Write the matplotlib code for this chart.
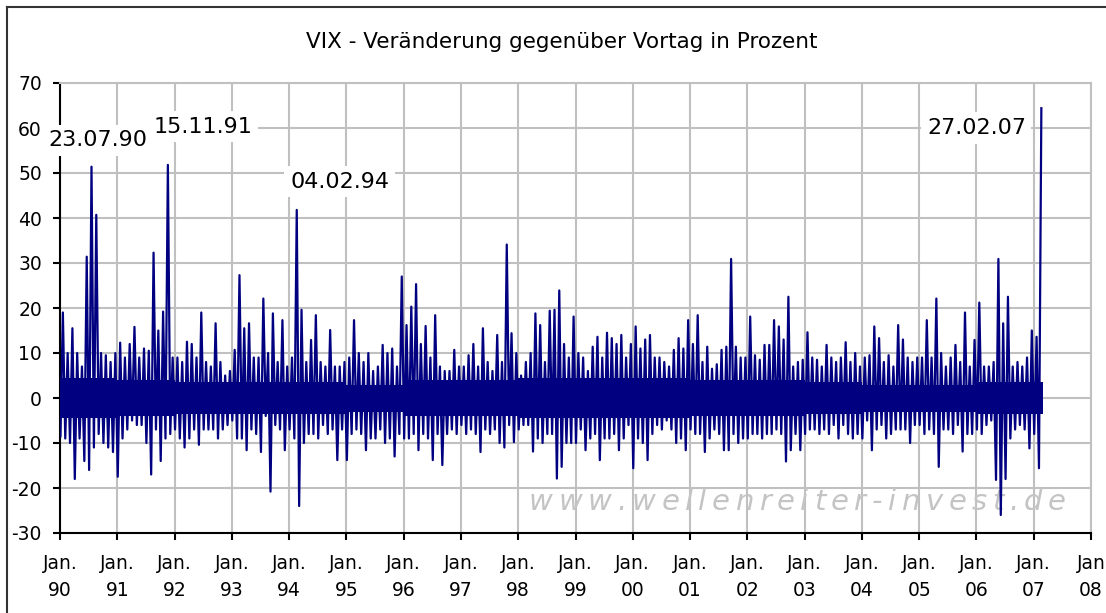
import numpy as np
import matplotlib
matplotlib.use('Agg')
import matplotlib.pyplot as plt
from matplotlib.lines import Line2D

plt.rcParams['font.family'] = 'DejaVu Sans'
plt.rcParams['axes.unicode_minus'] = False

# monthly high / low of the daily % change, Jan 1990 .. Feb 2007
month_max = [
    19, 10, 15.5, 10, 7, 31.4, 51.4, 40.7, 10, 9.5, 8, 10,                 # 1990
    12.3, 9, 12, 15.8, 9, 11, 10.5, 32.3, 15, 19.2, 51.8, 9,               # 1991
    9, 8, 12.5, 12, 9, 19, 8, 7, 16.6, 8, 5, 6,                            # 1992
    10.7, 27.3, 15.5, 16.6, 9, 9, 22.1, 10, 18.8, 8, 17.3, 7,              # 1993
    9, 41.8, 19.6, 8, 12.9, 18.4, 8, 7, 15.1, 7, 7, 8,                     # 1994
    9, 17.3, 10, 8, 10, 6, 7, 11.8, 10, 11, 7, 27,                         # 1995
    16.2, 20.3, 25.3, 12, 16, 9, 18.4, 7, 6, 6, 10.7, 7,                   # 1996
    7, 9.5, 12, 7, 15.5, 8, 6, 14, 8, 34.1, 14.4, 10,                      # 1997
    5, 8, 10, 18.8, 16.2, 8, 19.4, 19.6, 23.9, 12, 9, 18.1,                # 1998
    10, 9, 6, 11.4, 13.6, 9, 14.5, 13.3, 12, 14, 9, 12,                    # 1999
    15.9, 11, 13, 14, 9, 9, 8, 7, 10.7, 13.3, 11, 17.3,                    # 2000
    12, 18.4, 8, 11.4, 6.5, 7.5, 10.7, 11.4, 30.9, 11.4, 9, 9,             # 2001
    18.1, 9.5, 8.5, 11.8, 11.8, 17.3, 15.9, 13, 22.5, 7, 8, 8.5,           # 2002
    14.6, 9, 8.5, 7, 11.8, 9, 8, 9, 12.4, 8, 10, 7,                        # 2003
    9, 9.5, 15.9, 13.3, 8, 9.5, 7, 16.2, 13, 9, 8, 9,                      # 2004
    9, 17.3, 9, 22.1, 10, 7, 9, 11.8, 8, 19, 7, 12.9,                      # 2005
    21.2, 7, 7, 8, 30.9, 16.6, 22.5, 7, 8, 7, 9, 15,                       # 2006
    13.6, 64.4,                                                            # 2007
]
month_min = [
    -8.5, -9, -10, -18, -9, -14, -16, -11, -8, -10, -11, -12,
    -17.5, -9, -7, -5, -6, -6, -10, -17, -7, -14, -9, -8,
    -7, -9, -11, -9, -7, -10.4, -7, -7, -7, -9, -7, -6,
    -5, -9, -9, -11.6, -7, -8, -12, -4, -20.8, -6, -7, -11.6,
    -7, -9, -24, -10, -8, -8, -9, -6, -8, -7, -13.8, -7,
    -13.8, -8, -7, -8, -11.6, -9, -9, -7, -10, -9, -13, -8,
    -9, -9, -8, -11.6, -8, -9, -13.8, -8, -14.9, -8, -7, -8,
    -6, -8, -7, -8, -12, -7, -8, -7, -10, -11, -6, -9.8,
    -7, -6, -6, -11.9, -9, -10, -8, -8, -17.9, -15.3, -10, -10,
    -10, -7, -11.6, -9, -8, -13.8, -9, -9, -8, -11.6, -9, -6,
    -15.6, -9, -10, -13.8, -8, -6, -7, -5, -7, -10, -9, -11.6,
    -7, -8, -8, -12, -9, -7, -8, -11.6, -11.6, -8, -10, -9,
    -9, -8, -8, -9, -8, -8, -7, -8, -14.1, -11.6, -8, -11.6,
    -8, -7, -7, -8, -7, -8, -6, -9, -6, -8, -9, -8,
    -9, -5, -11.6, -7, -6, -9, -8, -7, -7, -7, -10, -6,
    -6, -8, -7, -8, -15.3, -7, -7, -8, -6, -11.9, -8, -8,
    -7, -8, -6, -5, -18.2, -26, -18, -9, -7, -6, -7, -11.2,
    -8, -15.6,
]

# the solid dense core of the band per year
core_years = list(range(1990, 2008))
core_hi = [4.5, 4, 3.5, 3.5, 3.5, 3, 4, 4, 4.5, 4.5, 4.5, 4, 4, 3.5, 3, 3, 3.5, 3.5]
core_lo = [-4.5, -4, -3.5, -3.5, -3.5, -3, -4, -4, -4.5, -4.5, -4.5, -4, -4, -3.5, -3, -3, -3.5, -3.5]

year_ticks = np.arange(1990, 2009)
year_labels = ['Jan.\n%02d' % (y % 100) for y in year_ticks]
year_labels[-1] = 'Jan\n08'
y_ticks = np.arange(-30, 71, 10)

spike_labels = ['23.07.90', '15.11.91', '04.02.94', '27.02.07']
label_pos = [(1990.66, 57.3), (1992.50, 60.3), (1994.88, 48.1), (2006.0, 60.0)]

title = 'VIX - Veränderung gegenüber Vortag in Prozent'
watermark = 'www.wellenreiter-invest.de'

W, H = 1106, 613
fig = plt.figure(figsize=(W / 100, H / 100), dpi=100)
ax = fig.add_axes([60 / W, 80 / H, (1091 - 60) / W, 450 / H])

navy = '#000080'
n = len(month_max)
m = np.arange(n)
t = np.empty(2 * n)
v = np.empty(2 * n)
t[0::2] = 1990 + (m + 0.1) / 12
v[0::2] = month_min
t[1::2] = 1990 + (m + 0.6) / 12
v[1::2] = month_max
end = 1990 + n / 12
for yr, hi, lo in zip(core_years, core_hi, core_lo):
    ax.fill_between([yr, min(yr + 1, end)], lo, hi, color=navy, lw=0, zorder=3)
ax.plot(t, v, color=navy, lw=1.6, zorder=3)

ax.set_xlim(1990, 2008)
ax.set_ylim(-30, 70)
ax.set_xticks(year_ticks)
ax.set_xticklabels(year_labels, linespacing=1.55)
ax.set_yticks(y_ticks)
ax.grid(True, color='#c0c0c0', lw=1.5)
ax.set_axisbelow(True)
for s in ['top', 'right']:
    ax.spines[s].set_color('#c0c0c0')
    ax.spines[s].set_linewidth(1.5)
for s in ['left', 'bottom']:
    ax.spines[s].set_color('black')
    ax.spines[s].set_linewidth(1.5)
ax.tick_params(axis='both', length=5, width=1.5, labelsize=13.5, colors='black')
ax.tick_params(axis='x', pad=10)
ax.tick_params(axis='y', pad=8)

for s, (x, y) in zip(spike_labels, label_pos):
    ax.text(x, y, s, ha='center', va='center', fontsize=16, zorder=6, clip_on=False,
            bbox=dict(fc='white', ec='none', pad=4))

fig.text(562 / W, 1 - 42 / H, title, ha='center', va='center', fontsize=15.5)

# watermark, spread letter by letter
fig.canvas.draw()
rend = fig.canvas.get_renderer()
wm_font = dict(fontsize=21, style='oblique', family='DejaVu Sans')
widths = []
for c in watermark:
    tt = fig.text(0, 0, c, **wm_font)
    widths.append(tt.get_window_extent(rend).width)
    tt.remove()
gap = (1066 - 529 - sum(widths)) / (len(watermark) - 1)
xp = 529
for c, w in zip(watermark, widths):
    ax.text(xp / W, 1 - 510 / H, c, transform=fig.transFigure, color='#c4c4c4',
            va='baseline', ha='left', zorder=2.6, **wm_font)
    xp += w + gap

# outer frame
fig.add_artist(Line2D([7 / W, 7 / W], [0, 1 - 7 / H], color='#333333', lw=1.5))
fig.add_artist(Line2D([7 / W, 1], [1 - 7 / H, 1 - 7 / H], color='#333333', lw=1.5))

fig.savefig('out.png', dpi=100)
